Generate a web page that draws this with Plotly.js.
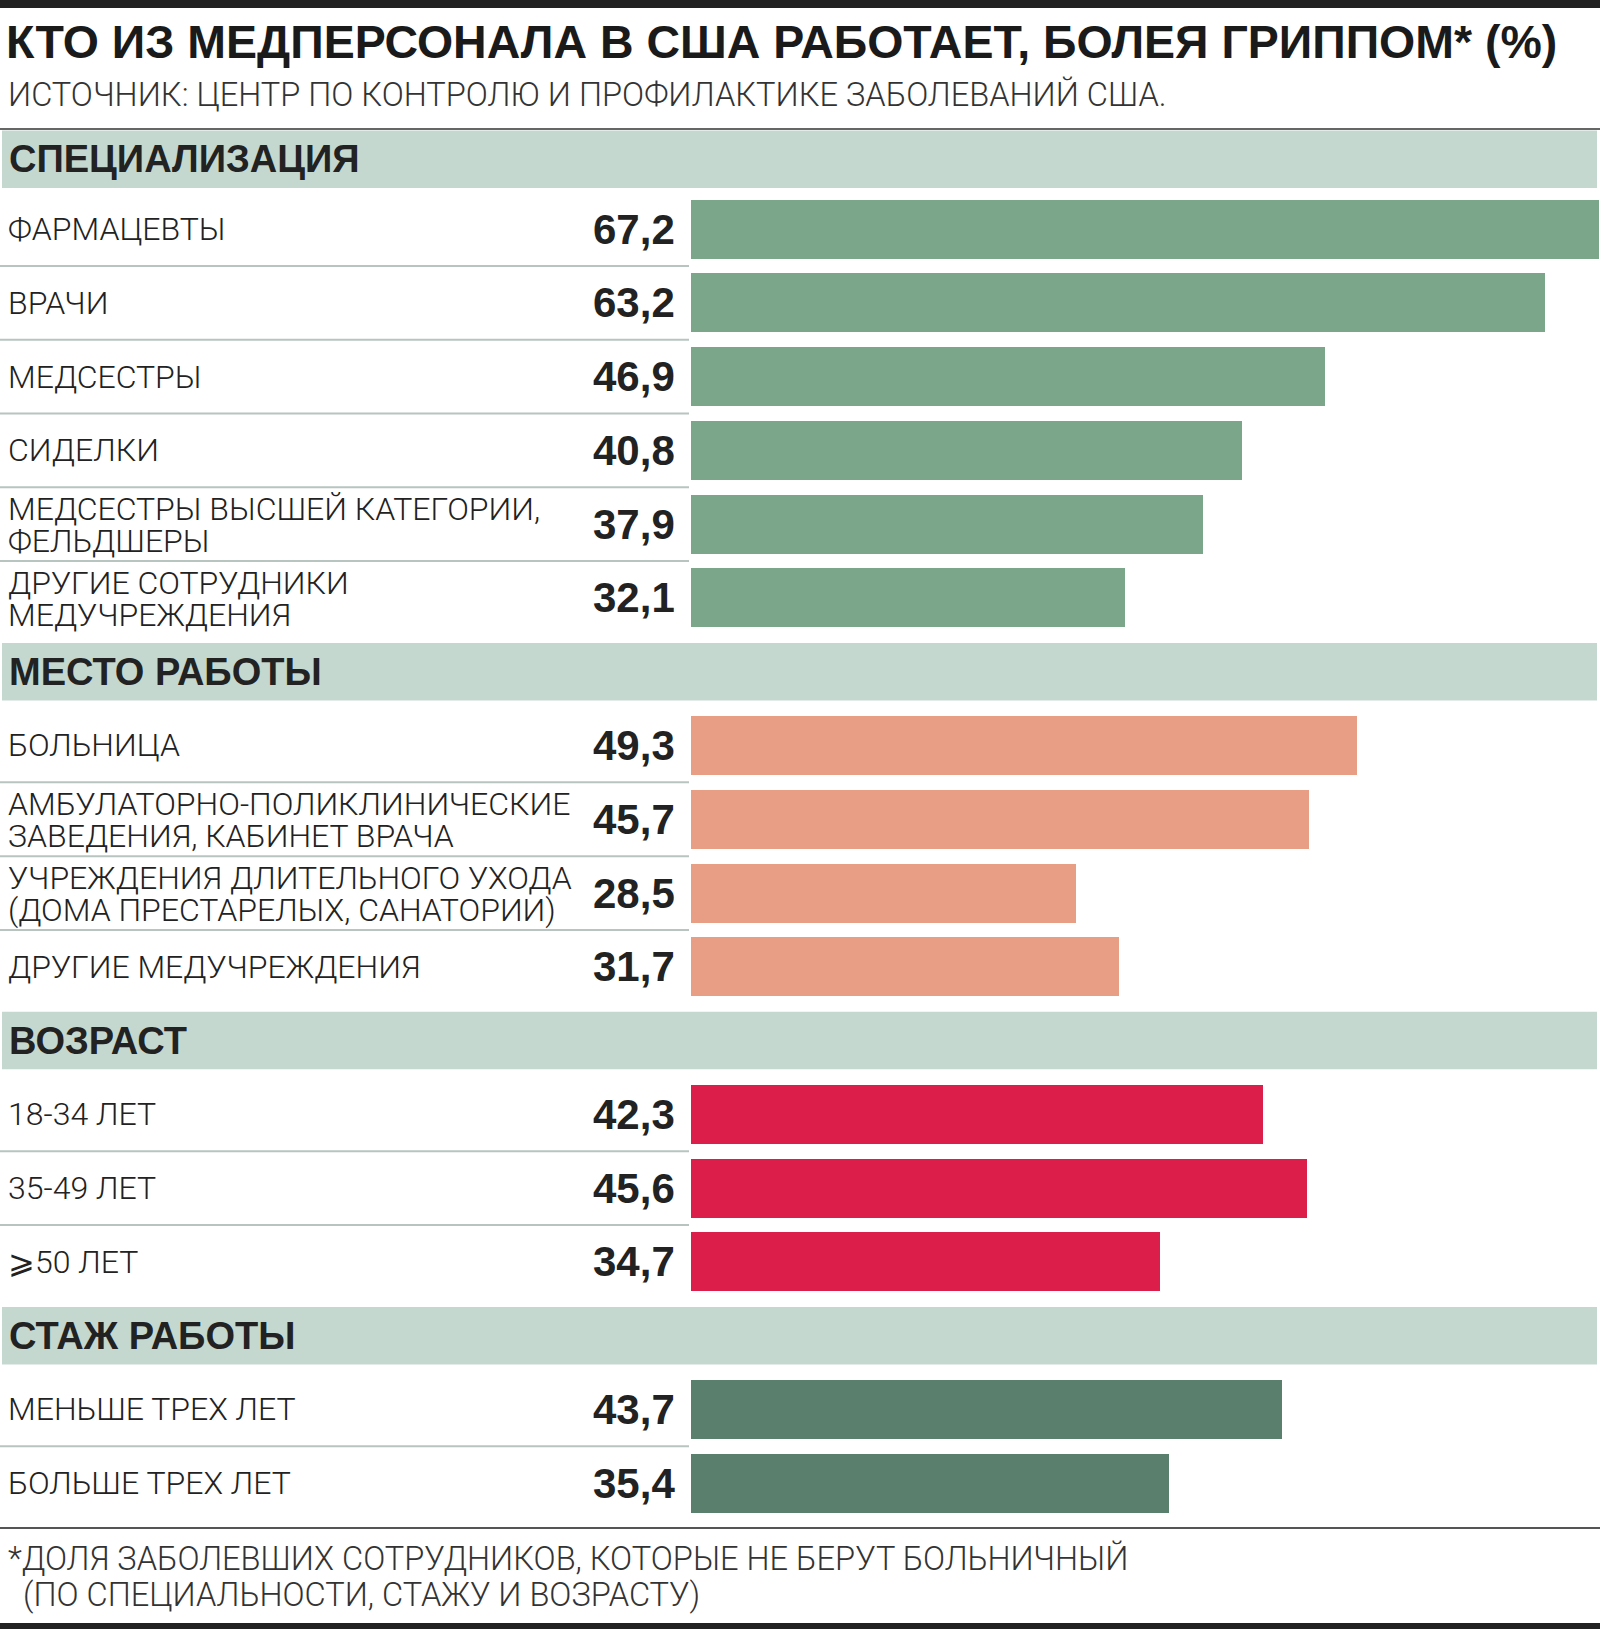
<!DOCTYPE html>
<html><head><meta charset="utf-8">
<script src="https://cdn.plot.ly/plotly-3.0.1.min.js"></script>
<style>html,body{margin:0;padding:0;background:#fff;} #chart{width:1600px;height:1629px;}</style>
</head><body><div id="chart"></div>
<script>
// ---- data ----
const titleText = "КТО ИЗ МЕДПЕРСОНАЛА В США РАБОТАЕТ, БОЛЕЯ ГРИППОМ* (%)";
const sourceText = "ИСТОЧНИК: ЦЕНТР ПО КОНТРОЛЮ И ПРОФИЛАКТИКЕ ЗАБОЛЕВАНИЙ США.";
const footnoteLines = ["*ДОЛЯ ЗАБОЛЕВШИХ СОТРУДНИКОВ, КОТОРЫЕ НЕ БЕРУТ БОЛЬНИЧНЫЙ", "(ПО СПЕЦИАЛЬНОСТИ, СТАЖУ И ВОЗРАСТУ)"];

const sectionTitles = ["СПЕЦИАЛИЗАЦИЯ", "МЕСТО РАБОТЫ", "ВОЗРАСТ", "СТАЖ РАБОТЫ"];

const specLabels = ["ФАРМАЦЕВТЫ", "ВРАЧИ", "МЕДСЕСТРЫ", "СИДЕЛКИ",
  "МЕДСЕСТРЫ ВЫСШЕЙ КАТЕГОРИИ,<br>ФЕЛЬДШЕРЫ", "ДРУГИЕ СОТРУДНИКИ<br>МЕДУЧРЕЖДЕНИЯ"];
const specValues = [67.2, 63.2, 46.9, 40.8, 37.9, 32.1];

const placeLabels = ["БОЛЬНИЦА", "АМБУЛАТОРНО-ПОЛИКЛИНИЧЕСКИЕ<br>ЗАВЕДЕНИЯ, КАБИНЕТ ВРАЧА",
  "УЧРЕЖДЕНИЯ ДЛИТЕЛЬНОГО УХОДА<br>(ДОМА ПРЕСТАРЕЛЫХ, САНАТОРИИ)", "ДРУГИЕ МЕДУЧРЕЖДЕНИЯ"];
const placeValues = [49.3, 45.7, 28.5, 31.7];

const ageLabels = ["18-34 ЛЕТ", "35-49 ЛЕТ", "⩾50 ЛЕТ"];
const ageValues = [42.3, 45.6, 34.7];

const tenureLabels = ["МЕНЬШЕ ТРЕХ ЛЕТ", "БОЛЬШЕ ТРЕХ ЛЕТ"];
const tenureValues = [43.7, 35.4];

const groupColors = ["#7ba68a", "#e89e84", "#dc1e4a", "#5a7f6c"];

// ---- layout constants ----
const W = 1600, H = 1629;
const PITCH = 73.77, SLOT0 = 155.33;      // px of slot centers
const BAR_X0 = 691;                      // px where bars begin
const XMAX = 67.25;
const HEAD_COLOR = "#c5d8cf", TXT = "#222222";
const LABEL_FONT = {family: "Roboto, 'Liberation Sans', sans-serif", size: 32, color: TXT, weight: 300};
const VALUE_FONT = {family: "'Liberation Sans', Arial, sans-serif", size: 42, color: TXT, weight: 700};
const HEAD_FONT = {family: "'Liberation Sans', Arial, sans-serif", size: 38, color: TXT, weight: 700};
const NOTE_FONT = {family: "Roboto, sans-serif", size: 32.6, color: "#333333", weight: 300};

const px2py = p => 1 - p / H;
const px2x = p => p / W;

const groups = [
  {labels: specLabels, values: specValues},
  {labels: placeLabels, values: placeValues},
  {labels: ageLabels, values: ageValues},
  {labels: tenureLabels, values: tenureValues}
];

const traces = [], shapes = [], annotations = [];
let slot = 0;
groups.forEach((g, gi) => {
  // header band (the first one sits just below the rule under the source line)
  const off = gi === 0 ? 4 / PITCH : 0;
  shapes.push({type: "rect", xref: "paper", yref: "y", x0: px2x(2), x1: px2x(1597),
    y0: slot + off - 0.39, y1: slot + off + 0.39, fillcolor: HEAD_COLOR, line: {width: 0}, layer: "below"});
  annotations.push({xref: "paper", yref: "y", x: px2x(7), y: slot + off, xanchor: "left", yanchor: "middle",
    text: sectionTitles[gi], showarrow: false, font: HEAD_FONT});
  slot++;
  const ys = [];
  g.labels.forEach((lab, i) => {
    const y = slot;
    ys.push(y);
    const lines = lab.split("<br>");
    if (lines.length === 1) {
      annotations.push({xref: "paper", yref: "y", x: px2x(6), y: y, xanchor: "left", yanchor: "middle",
        text: lab, showarrow: false, font: LABEL_FONT});
    } else {
      lines.forEach((ln, k) => {
        annotations.push({xref: "paper", yref: "y", x: px2x(6), y: y, xanchor: "left", yanchor: "middle",
          yshift: k === 0 ? 15 : -17, text: ln, showarrow: false, font: LABEL_FONT});
      });
    }
    annotations.push({xref: "paper", yref: "y", x: px2x(591), y: y, xanchor: "left", yanchor: "middle",
      text: g.values[i].toFixed(1).replace(".", ","), showarrow: false, font: VALUE_FONT});
    if (i < g.labels.length - 1) {
      shapes.push({type: "line", xref: "paper", yref: "y", x0: 0, x1: px2x(689), y0: y + 0.5, y1: y + 0.5,
        line: {color: "#b7c4bf", width: 2}});
    }
    slot++;
  });
  traces.push({type: "bar", orientation: "h", x: g.values, y: ys, width: 0.8,
    marker: {color: groupColors[gi], line: {width: 0}}, hoverinfo: "skip", showlegend: false});
});

// decorative frame lines
shapes.push({type: "rect", xref: "paper", yref: "paper", x0: 0, x1: 1, y0: px2py(0), y1: px2py(8),
  fillcolor: "#222222", line: {width: 0}});
shapes.push({type: "line", xref: "paper", yref: "paper", x0: 0, x1: 1, y0: px2py(129), y1: px2py(129),
  line: {color: "#333333", width: 1.5}});
shapes.push({type: "line", xref: "paper", yref: "paper", x0: 0, x1: 1, y0: px2py(1528), y1: px2py(1528),
  line: {color: "#555555", width: 2}});
shapes.push({type: "rect", xref: "paper", yref: "paper", x0: 0, x1: 1, y0: px2py(1623), y1: px2py(1629),
  fillcolor: "#222222", line: {width: 0}});

annotations.push({xref: "paper", yref: "paper", x: px2x(4), y: px2py(42), xanchor: "left", yanchor: "middle",
  text: titleText, showarrow: false,
  font: {family: "'Liberation Sans', Arial, sans-serif", size: 46.5, color: "#1a1a1a", weight: 700}});
annotations.push({xref: "paper", yref: "paper", x: px2x(6), y: px2py(95), xanchor: "left", yanchor: "middle",
  text: sourceText, showarrow: false, font: NOTE_FONT});
annotations.push({xref: "paper", yref: "paper", x: px2x(6), y: px2py(1559), xanchor: "left", yanchor: "middle",
  text: footnoteLines[0], showarrow: false, font: NOTE_FONT});
annotations.push({xref: "paper", yref: "paper", x: px2x(21), y: px2py(1595), xanchor: "left", yanchor: "middle",
  text: footnoteLines[1], showarrow: false, font: NOTE_FONT});

const layout = {
  width: W, height: H,
  margin: {l: 0, r: 0, t: 0, b: 0},
  paper_bgcolor: "#ffffff", plot_bgcolor: "rgba(0,0,0,0)",
  showlegend: false, bargap: 0,
  xaxis: {domain: [BAR_X0 / W, 1], range: [0, XMAX], visible: false, fixedrange: true},
  yaxis: {range: [(H - SLOT0) / PITCH, -SLOT0 / PITCH], visible: false, fixedrange: true},
  shapes: shapes, annotations: annotations
};

Plotly.newPlot("chart", traces, layout, {displayModeBar: false, staticPlot: true});
</script>
</body></html>
